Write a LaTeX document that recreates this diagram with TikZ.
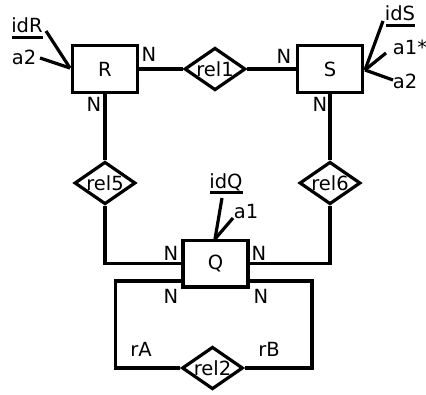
\documentclass[tikz,border=0pt]{standalone}
\usepackage{fontspec}
\setmainfont{DejaVu Sans}
\usetikzlibrary{shapes.geometric}
\begin{document}
\begin{tikzpicture}[x=1pt,y=-1pt,
  every node/.style={font=\fontsize{19.5}{22}\selectfont, inner sep=0pt},
  ln/.style={line width=3.2pt},
  ent/.style={draw, line width=3.2pt, rectangle, minimum width=65pt, minimum height=46.5pt},
  rel/.style={draw, line width=3.2pt, diamond, aspect=1.43, minimum width=61pt, minimum height=42.5pt},
  ul/.style={line width=3pt}]
\useasboundingbox (0,0) rectangle (426,394);
% entities
\node[ent] (R) at (105,69) {R};
\node[ent] (S) at (330,69) {S};
\node[ent] (Q) at (215.5,263.7) {Q};
% relationships
\node[rel] (rel1) at (215,69) {rel1};
\node[rel] (rel5) at (105,183) {rel5};
\node[rel] (rel6) at (330,183) {rel6};
\node[rel] (rel2) at (212.5,368) {rel2};
% connectors
\draw[ln] (R.east) -- (rel1.west);
\draw[ln] (rel1.east) -- (S.west);
\draw[ln] (R.south) -- (rel5.north);
\draw[ln] (S.south) -- (rel6.north);
\draw[ln] (rel5.south) |- (Q.west);
\draw[ln] (rel6.south) |- (Q.east);
\coordinate (qa) at (183,281);
\coordinate (qb) at (248,281);
\draw[ln] (qa) -- ++(-67.5,0) |- (rel2.west);
\draw[ln] (qb) -- ++(64,0) |- (rel2.east);
% cardinalities
\node (n1) at (149,54) {N};
\node (n2) at (94,104) {N};
\node (n3) at (284,56) {N};
\node (n4) at (320,104) {N};
\node (n5) at (171,253) {N};
\node (n6) at (259,253) {N};
\node (n7) at (171,296) {N};
\node (n8) at (261,296) {N};
\node (rA) at (141,349) {rA};
\node (rB) at (269,349) {rB};
% attributes of R
\node (idR) at (27,25) {idR};
\draw[ul] (12,37) -- (43,37);
\node (aR2) at (24,57) {a2};
\coordinate (Rw) at (70,68);
\draw[ln] (46,31) -- (Rw);
\draw[ln] (40,58) -- (Rw);
% attributes of S
\node (idS) at (400,13) {idS};
\draw[ul] (386,25) -- (415,25);
\node (aS1) at (410,47) {a1*};
\node (aS2) at (405,81) {a2};
\coordinate (Se) at (365,70);
\draw[ln] (383,21) -- (Se);
\draw[ln] (386,53) -- (Se);
\draw[ln] (393,80) -- (Se);
% attributes of Q
\node (idQ) at (226,182) {idQ};
\draw[ul] (210,192) -- (243,192);
\node (aQ1) at (246,212) {a1};
\coordinate (Qn) at (215,239);
\draw[ln] (222,198) -- (Qn);
\draw[ln] (233,218) -- (Qn);
\end{tikzpicture}
\end{document}
